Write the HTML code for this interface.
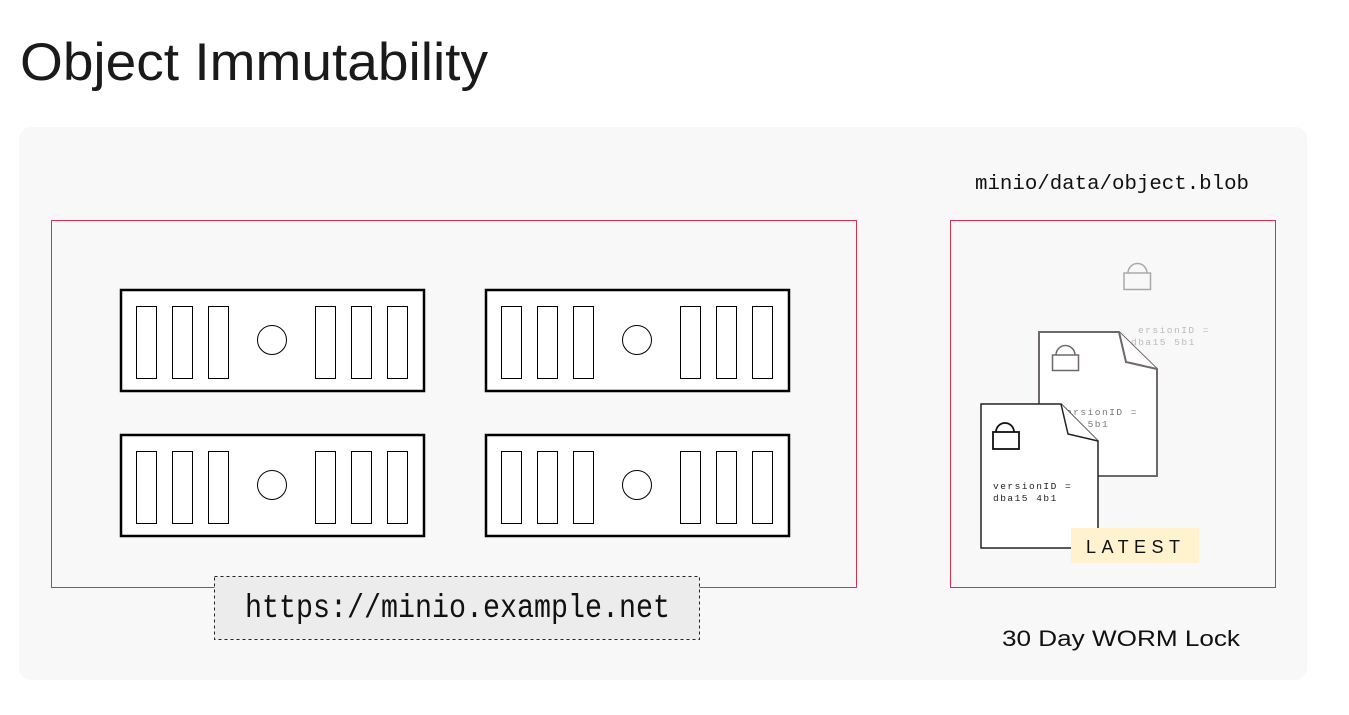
<!DOCTYPE html>
<html><head><style>html,body{margin:0;padding:0;background:#fff;}</style></head><body>
<svg width="1349" height="710" viewBox="0 0 1349 710" xmlns="http://www.w3.org/2000/svg">
<text x="20" y="80" font-family="Liberation Sans, sans-serif" font-size="53" fill="#1a1a1a" textLength="468" lengthAdjust="spacingAndGlyphs">Object Immutability</text>
<rect x="19" y="127" width="1288" height="553" rx="12" fill="#f8f8f8"/>
<rect x="51.5" y="220.5" width="805" height="367" fill="none" stroke="#d6304f" stroke-width="1"/>
<rect x="950.5" y="220.5" width="325" height="367" fill="none" stroke="#d6304f" stroke-width="1"/>
<g id="srv">
<rect x="121" y="290" width="303" height="101" fill="#fff" stroke="#000" stroke-width="2.5"/>
<g fill="#fff" stroke="#000" stroke-width="1">
<rect x="136.5" y="306.5" width="20" height="72"/><rect x="172.5" y="306.5" width="20" height="72"/><rect x="208.5" y="306.5" width="20" height="72"/>
<rect x="315.5" y="306.5" width="20" height="72"/><rect x="351.5" y="306.5" width="20" height="72"/><rect x="387.5" y="306.5" width="20" height="72"/>
<circle cx="272" cy="340" r="14.5"/>
</g></g>
<use href="#srv" x="365" y="0"/>
<use href="#srv" x="0" y="145"/>
<use href="#srv" x="365" y="145"/>
<rect x="214.5" y="576.5" width="485" height="63" fill="#ececec" stroke="#222" stroke-width="1" stroke-dasharray="3,3"/>
<text x="245" y="617" font-family="Liberation Mono, monospace" font-size="33" fill="#111" textLength="425" lengthAdjust="spacingAndGlyphs">https://minio.example.net</text>
<text x="975" y="189" font-family="Liberation Mono, monospace" font-size="20.5" fill="#111" textLength="274" lengthAdjust="spacingAndGlyphs">minio/data/object.blob</text>
<text x="1002" y="646" font-family="Liberation Sans, sans-serif" font-size="22" fill="#111" textLength="238" lengthAdjust="spacingAndGlyphs">30 Day WORM Lock</text>
<!-- top gray lock -->
<g fill="none" stroke="#aaa" stroke-width="1.5"><path d="M1128 273 a9.5 9.5 0 0 1 19 0"/><rect x="1124" y="273" width="26.5" height="16.5"/></g>
<text x="1138" y="333" font-family="Liberation Mono, monospace" font-size="9.5" fill="#bbb" letter-spacing="1.5">ersionID =</text>
<text x="1131" y="345" font-family="Liberation Mono, monospace" font-size="9.5" fill="#bbb" letter-spacing="1.5">dba15 5b1</text>
<!-- back doc -->
<path d="M1039 332 H1119 L1157 369 V476 H1039 Z" fill="#fff" stroke="#6e6868" stroke-width="2"/>
<path d="M1119 332 L1126 362 L1157 369" fill="#fff" stroke="#6e6868" stroke-width="2"/>
<g fill="none" stroke="#6e6868" stroke-width="1.5"><path d="M1056 355 a9.5 9.5 0 0 1 19 0"/><rect x="1052.5" y="355" width="26" height="15.5"/></g>
<text x="1066" y="415" font-family="Liberation Mono, monospace" font-size="9.5" fill="#777" letter-spacing="1.5">ersionID =</text>
<text x="1066" y="427" font-family="Liberation Mono, monospace" font-size="9.5" fill="#777" letter-spacing="1.5">15 5b1</text>
<!-- front doc -->
<path d="M981 404 H1061 L1098 441 V548 H981 Z" fill="#fff" stroke="#222" stroke-width="1.5"/>
<path d="M1061 404 L1068 434 L1098 441" fill="#fff" stroke="#222" stroke-width="1.5"/>
<g fill="none" stroke="#111" stroke-width="1.8"><path d="M996 432 a9 9 0 0 1 18 0"/><rect x="993" y="432" width="26" height="17"/></g>
<text x="993" y="489" font-family="Liberation Mono, monospace" font-size="9.5" fill="#222" letter-spacing="1.5">versionID =</text>
<text x="993" y="501" font-family="Liberation Mono, monospace" font-size="9.5" fill="#222" letter-spacing="1.5">dba15 4b1</text>
<rect x="1071" y="528" width="128" height="35" fill="#fff3cf"/>
<text x="1086" y="553" font-family="Liberation Sans, sans-serif" font-size="18" fill="#111" letter-spacing="4" textLength="98" lengthAdjust="spacing">LATEST</text>
</svg>
</body></html>
